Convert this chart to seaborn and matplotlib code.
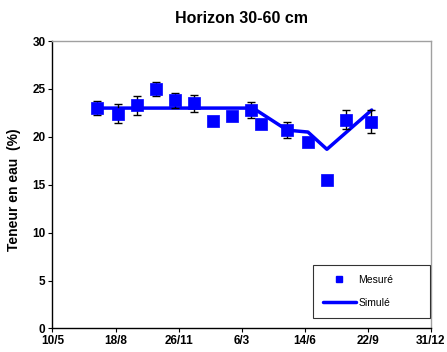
import matplotlib
matplotlib.use('Agg')
import matplotlib.pyplot as plt
from matplotlib.lines import Line2D
import seaborn as sns
import pandas as pd

# measured water content, horizon 30-60 cm
mes_dates = ['2002-07-19', '2002-08-22', '2002-09-21', '2002-10-21', '2002-11-21',
             '2002-12-21', '2003-01-19', '2003-02-19', '2003-03-20', '2003-04-06',
             '2003-05-17', '2003-06-19', '2003-07-19', '2003-08-19', '2003-09-27']
mes_values = [23.0, 22.4, 23.3, 25.0, 23.8, 23.5, 21.7, 22.2, 22.8, 21.3,
              20.7, 19.5, 15.5, 21.8, 21.6]
mes_err = [0.7, 1.0, 1.0, 0.7, 0.8, 0.9, 0.3, 0.4, 0.85, 0.3,
           0.85, 0.4, 0.3, 1.0, 1.2]

# simulated water content
sim_dates = ['2002-07-19', '2002-08-22', '2002-09-21', '2002-10-21', '2002-11-21',
             '2002-12-21', '2003-01-19', '2003-02-19', '2003-03-24', '2003-05-17',
             '2003-06-19', '2003-07-19', '2003-09-28']
sim_values = [23.0, 23.0, 23.0, 23.0, 23.0, 23.0, 23.0, 23.0, 23.0, 20.7,
              20.5, 18.7, 22.8]

x_ticks = pd.date_range('2002-05-10', '2003-12-31', freq='100D')

mes = pd.DataFrame({'date': pd.to_datetime(mes_dates), 'val': mes_values, 'err': mes_err})
sim = pd.DataFrame({'date': pd.to_datetime(sim_dates), 'val': sim_values})

sns.set_style('white')
plt.rcParams['font.family'] = ['Liberation Sans', 'DejaVu Sans']
plt.rcParams['text.color'] = 'black'
plt.rcParams['xtick.color'] = 'black'
plt.rcParams['ytick.color'] = 'black'
plt.rcParams['axes.labelcolor'] = 'black'

fig = plt.figure(figsize=(4.47, 3.52), dpi=100)
ax = fig.add_axes([0.1174, 0.0668, 0.8468, 0.8167])

sns.lineplot(data=sim, x='date', y='val', ax=ax, color='#0000ff', linewidth=2.5, zorder=2)
ax.errorbar(mes['date'], mes['val'], yerr=mes['err'], fmt='none', ecolor='black',
            elinewidth=1, capsize=2.8, capthick=1, zorder=3)
sns.scatterplot(data=mes, x='date', y='val', ax=ax, marker='s', s=70, color='#0000ff',
                edgecolor='#0000ff', linewidth=0.5, zorder=4)

ax.set_xlim(x_ticks[0], x_ticks[-1])
ax.set_ylim(0, 30)
ax.set_xticks(x_ticks)
ax.set_xticklabels([f'{d.day}/{d.month}' for d in x_ticks], fontsize=8.5, fontweight='bold')
ax.set_yticks(range(0, 31, 5))
ax.set_yticklabels([str(v) for v in range(0, 31, 5)], fontsize=8.5, fontweight='bold')
ax.tick_params(axis='both', direction='out', length=3, width=0.8, pad=2,
               bottom=True, left=True)
ax.set_xlabel('')
ax.set_ylabel('Teneur en eau  (%)', fontsize=10, fontweight='bold')
ax.yaxis.set_label_coords(-0.082, 0.482)
ax.set_title('Horizon 30-60 cm', fontsize=11.5, fontweight='bold', pad=13)

for side in ['top', 'right']:
    ax.spines[side].set_color('#a0a0a0')
    ax.spines[side].set_linewidth(1)
for side in ['left', 'bottom']:
    ax.spines[side].set_color('black')
    ax.spines[side].set_linewidth(1)

handles = [Line2D([], [], linestyle='none', marker='s', markersize=5, color='#0000ff'),
           Line2D([], [], color='#0000ff', linewidth=2.5)]
leg = ax.legend(handles, ['Mesuré', 'Simulé'], loc='lower left',
                bbox_to_anchor=(0.688, 0.0365, 0.309, 0.19), mode='expand',
                fontsize=7.5, frameon=True, fancybox=False,
                handlelength=3.2, handletextpad=0.2, labelspacing=1.25, borderpad=0.95,
                borderaxespad=0)
leg.get_frame().set_edgecolor('black')
leg.get_frame().set_linewidth(0.8)

fig.savefig('out.png', dpi=100)
